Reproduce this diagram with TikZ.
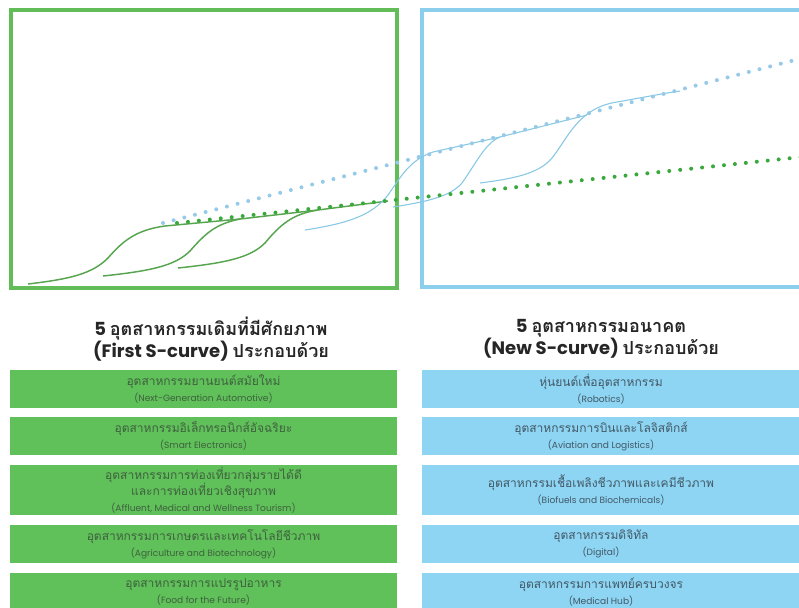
\documentclass[tikz,border=0pt]{standalone}
\usepackage{fontspec}
\newfontfamily\thaifont[Script=Thai]{Loma}
\newfontfamily\latinfont{Poppins}
\usetikzlibrary{positioning}

\definecolor{grnframe}{RGB}{98,189,88}
\definecolor{grnbox}{RGB}{96,192,90}
\definecolor{grncurve}{RGB}{88,165,80}
\definecolor{grndot}{RGB}{58,168,60}
\definecolor{grntext}{RGB}{62,98,62}
\definecolor{bluframe}{RGB}{140,207,236}
\definecolor{blubox}{RGB}{142,213,243}
\definecolor{blucurve}{RGB}{135,200,228}
\definecolor{bludot}{RGB}{150,202,232}
\definecolor{blutext}{RGB}{66,88,102}

\newcommand\thline[1]{{\thaifont\fontsize{9}{12}\selectfont #1}}
\newcommand\enline[1]{{\latinfont\fontsize{6.8}{8}\selectfont #1}}
\newcommand\headfont{\bfseries\fontsize{13.5}{14}\selectfont}

\begin{document}
\begin{tikzpicture}[
    x=0.75pt, y=-0.75pt,
    frame/.style={line width=2.3pt},
    box/.style={minimum height=28.5pt, inner sep=0pt, align=center},
    gbox/.style={box, fill=grnbox, text=grntext, minimum width=290.25pt},
    bbox/.style={box, fill=blubox, text=blutext, minimum width=268.5pt},
    head/.style={align=center, text=black!85},
    gcurve/.style={draw=grncurve, line width=1.1pt},
    bcurve/.style={draw=blucurve, line width=0.8pt},
    dots/.style={line width=3pt, line cap=round, dash pattern=on 0pt off 8.25pt},
  ]
  \fill[white] (0,0) rectangle (799,607);
  \clip (0,0) rectangle (799,607);

  % --- Frames -------------------------------------------------------------
  \draw[frame, grnframe] (11,10) rectangle (397,288);
  \draw[frame, bluframe] (422,10) rectangle (830,287);

  % --- First S-curve ------------------------------------------------------
  \draw[gcurve] (28,284) .. controls (70,279) and (92,274) .. (108,258)
    .. controls (122,242) and (135,230) .. (165,226) -- (240,219);
  \draw[gcurve] (103,276) .. controls (150,271) and (175,266) .. (190,251)
    .. controls (205,234) and (215,224) .. (240,219) -- (318,210);
  \draw[gcurve] (178,268) .. controls (225,263) and (250,258) .. (265,243)
    .. controls (280,225) and (292,214) .. (318,210) -- (388,201);

  % --- New S-curve --------------------------------------------------------
  \draw[bcurve] (305,230) .. controls (350,223) and (372,215) .. (388,195)
    .. controls (402,175) and (410,160) .. (433,152) -- (500,137);
  \draw[bcurve] (393,207) .. controls (425,202) and (450,197) .. (462,183)
    .. controls (475,165) and (485,143) .. (500,137) -- (587,115);
  \draw[bcurve] (480,183) .. controls (520,178) and (540,172) .. (552,158)
    .. controls (568,138) and (578,108) .. (617,102)
    .. controls (640,98) and (660,94) .. (680,91);

  % --- Trend lines --------------------------------------------------------
  \draw[dots, bludot] (163,223) -- (830,51);
  \draw[dots, grndot] (177,223) -- (830,154);

  % --- Headings -----------------------------------------------------------
  \node[head] (hfirst) at (211,339)
    {{\latinfont\headfont 5 }{\thaifont\headfont อุตสาหกรรมเดิมที่มีศักยภาพ}\\
     {\latinfont\headfont (First S-curve) }{\thaifont\headfont ประกอบด้วย}};
  \node[head] (hnew) at (601,339)
    {{\latinfont\headfont 5 }{\thaifont\headfont อุตสาหกรรมอนาคต}\\
     {\latinfont\headfont (New S-curve) }{\thaifont\headfont ประกอบด้วย}};

  % --- Industry boxes -----------------------------------------------------
  \node[gbox] (first1) at (203.5,389)
    {\thline{อุตสาหกรรมยานยนต์สมัยใหม่}\\\enline{(Next-Generation Automotive)}};
  \node[gbox] (first2) at (203.5,436)
    {\thline{อุตสาหกรรมอิเล็กทรอนิกส์อัจฉริยะ}\\\enline{(Smart Electronics)}};
  \node[gbox, minimum height=37.5pt] (first3) at (203.5,490)
    {\thline{อุตสาหกรรมการท่องเที่ยวกลุ่มรายได้ดี}\\\thline{และการท่องเที่ยวเชิงสุขภาพ}\\
     \enline{(Affluent, Medical and Wellness Tourism)}};
  \node[gbox] (first4) at (203.5,544)
    {\thline{อุตสาหกรรมการเกษตรและเทคโนโลยีชีวภาพ}\\\enline{(Agriculture and Biotechnology)}};
  \node[gbox] (first5) at (203.5,592)
    {\thline{อุตสาหกรรมการแปรรูปอาหาร}\\\enline{(Food for the Future)}};

  \node[bbox] (new1) at (601,389)
    {\thline{หุ่นยนต์เพื่ออุตสาหกรรม}\\\enline{(Robotics)}};
  \node[bbox] (new2) at (601,436)
    {\thline{อุตสาหกรรมการบินและโลจิสติกส์}\\\enline{(Aviation and Logistics)}};
  \node[bbox, minimum height=37.5pt] (new3) at (601,490)
    {\thline{อุตสาหกรรมเชื้อเพลิงชีวภาพและเคมีชีวภาพ}\\\enline{(Biofuels and Biochemicals)}};
  \node[bbox] (new4) at (601,544)
    {\thline{อุตสาหกรรมดิจิทัล}\\\enline{(Digital)}};
  \node[bbox] (new5) at (601,592)
    {\thline{อุตสาหกรรมการแพทย์ครบวงจร}\\\enline{(Medical Hub)}};

  % the blue boxes run on past the right edge
  \foreach \n in {new1, new2, new3, new4, new5}
    \fill[blubox] (\n.north east) rectangle ([xshift=30pt]\n.south east);

\end{tikzpicture}
\end{document}
